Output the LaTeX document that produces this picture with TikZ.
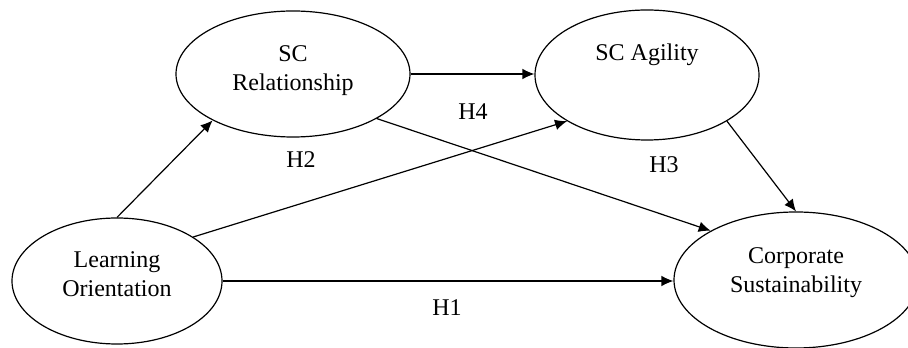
\documentclass[tikz,border=0pt]{standalone}
\usepackage{fontspec}
\setmainfont{Liberation Serif}
\usepackage{tikz}
\usetikzlibrary{shapes.geometric,arrows.meta}

\begin{document}
\begin{tikzpicture}[x=0.75pt,y=-0.75pt,
    construct/.style={draw,ellipse,line width=0.9pt,inner sep=0pt},
    txt/.style={align=center,font=\fontsize{18}{21.75}\selectfont},
    path/.style={-{Latex[length=9pt,width=8pt]},line width=0.9pt},
    hyp/.style={font=\fontsize{18}{21.75}\selectfont}]
  \useasboundingbox (0,0) rectangle (908,348);
  % Constructs
  \node[construct,minimum width=175.5pt,minimum height=94.5pt] (scr) at (293,74) {};
  \node[construct,minimum width=168pt,minimum height=97.5pt] (sca) at (647,75) {};
  \node[construct,minimum width=157.5pt,minimum height=94.5pt] (lo) at (117,281) {};
  \node[construct,minimum width=183pt,minimum height=102pt] (cs) at (796,280) {};
  % Construct names
  \node[txt] (scrtxt) at (293,71) {SC\\Relationship};
  \node[txt] (scatxt) at (647,54.5) {SC Agility};
  \node[txt] (lotxt) at (117,274.5) {Learning\\Orientation};
  \node[txt] (cstxt) at (796,272.5) {Corporate\\Sustainability};
  % Paths
  \draw[path] (lo.north) -- (scr.210);
  \draw[path] (lo.30) -- (sca.210);
  \draw[path] (lo.east) -- (lo.east -| cs.west);
  \draw[path] (scr.east) -- (scr.east -| sca.west);
  \draw[path] (scr.-28) -- (cs.150);
  \draw[path] (sca.-30) -- (cs.north);
  % Hypothesis labels
  \node[hyp] (h1) at (447,308) {H1};
  \node[hyp] (h2) at (301,160) {H2};
  \node[hyp] (h3) at (664,165) {H3};
  \node[hyp] (h4) at (473,112) {H4};
\end{tikzpicture}
\end{document}
